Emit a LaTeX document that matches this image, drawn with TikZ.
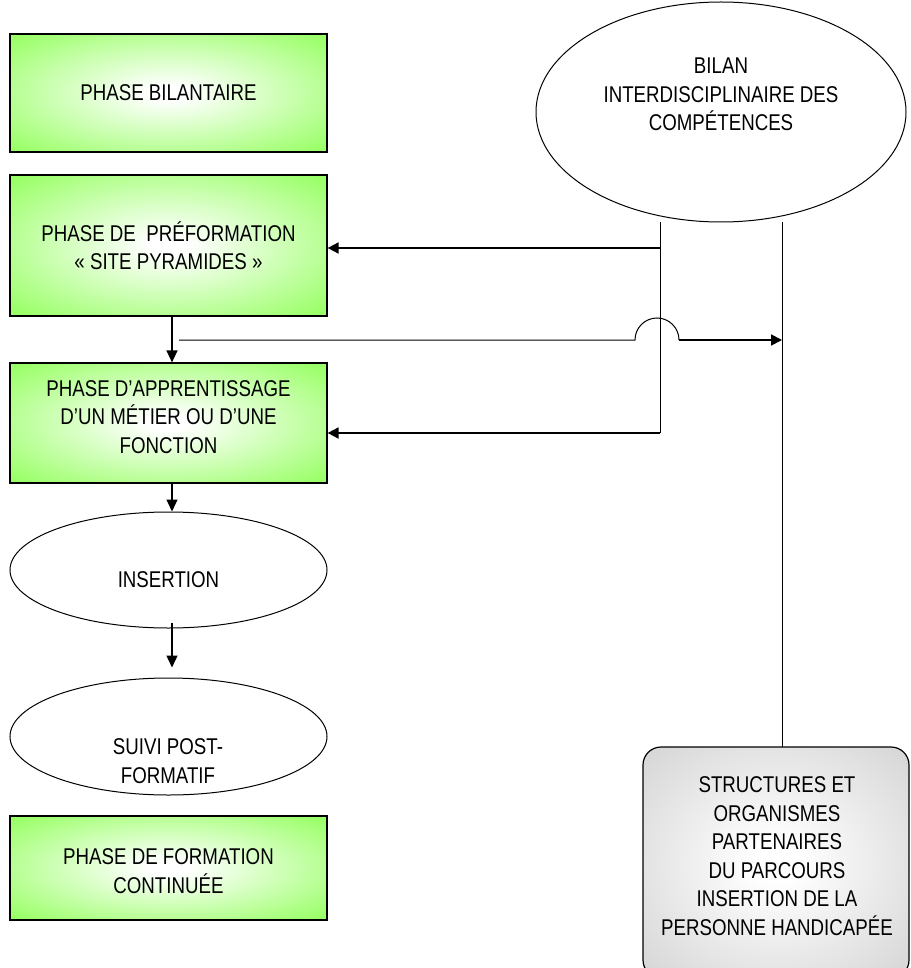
\documentclass[tikz,border=0pt]{standalone}
\usepackage{fontspec}
\setmainfont[FakeStretch=0.82]{Liberation Sans}
\usetikzlibrary{arrows.meta,shapes.geometric}
\definecolor{gboxc}{RGB}{153,255,102}
\definecolor{graycol}{RGB}{200,200,200}
\pgfdeclareradialshading{greenc}{\pgfpoint{0bp}{0bp}}{color(0bp)=(white); color(3bp)=(white); color(34bp)=(gboxc); color(50bp)=(gboxc)}
\pgfdeclareradialshading{grayc}{\pgfpoint{0bp}{0bp}}{color(0bp)=(white); color(4bp)=(white); color(45bp)=(graycol); color(50bp)=(graycol)}
\tikzset{
  txt/.style={font=\fontsize{22.8pt}{28.5pt}\selectfont, align=center, inner sep=0pt},
  gbox/.style={txt, draw=black, line width=1.2pt, shading=greenc, minimum width=317pt},
  oval/.style={draw=black, line width=1pt, ellipse, inner sep=0pt},
  thin/.style={line width=1pt},
  arr/.style={line width=1.3pt, -{Triangle[length=12pt,width=11pt]}},
  arrthick/.style={line width=1.8pt, -{Triangle[length=11pt,width=11pt]}}
}
\begin{document}
\begin{tikzpicture}[x=1pt,y=-1pt]
\useasboundingbox (0,0) rectangle (910,968);
\clip (0,0) rectangle (910,968);
% green boxes
\node[gbox, minimum height=118pt] (b1) at (168.5,93) {PHASE BILANTAIRE};
\node[gbox, minimum height=141pt] (b2) at (168.5,245.5) {PHASE DE\ \ PRÉFORMATION\\« SITE PYRAMIDES »};
\node[gbox, minimum height=120pt] (b3) at (168.5,423) {};
\node[txt] (b3t) at (168.5,417) {PHASE D’APPRENTISSAGE\\D’UN MÉTIER OU D’UNE\\FONCTION};
\node[gbox, minimum height=104pt] (b4) at (168.5,868) {};
\node[txt] (b4t) at (168.5,871) {PHASE DE FORMATION\\CONTINUÉE};
% ellipses
\node[oval, minimum width=317pt, minimum height=116pt] (ins) at (168.5,570) {};
\node[txt] (inst) at (168.5,580) {INSERTION};
\node[oval, minimum width=317pt, minimum height=117pt] (suivi) at (168.5,736.5) {};
\node[txt] (suivit) at (168,761) {SUIVI POST-\\FORMATIF};
\node[oval, minimum width=370pt, minimum height=220pt] (bilan) at (721,112) {};
\node[txt] (bilant) at (721,94.5) {BILAN\\INTERDISCIPLINAIRE DES\\COMPÉTENCES};
% gray box
\draw[line width=1.2pt, rounded corners=18pt, shading=grayc] (643,747) rectangle (909,978);
\node[txt] (grayt) at (777,856) {STRUCTURES ET\\ORGANISMES\\PARTENAIRES\\DU PARCOURS\\INSERTION DE LA\\PERSONNE HANDICAPÉE};
\coordinate (gtop) at (782,747);
% coordinates
\coordinate (v1top) at ([xshift=-61pt]bilan.south);
\coordinate (v2top) at ([xshift=61pt]bilan.south);
\coordinate (j1) at (660,248);
\coordinate (j2) at (660,433);
\coordinate (h0) at (179,340);
\coordinate (ha) at (635,340);
\coordinate (hb) at (679,340);
% connectors
\draw[thin] (v1top) -- (j2);
\draw[thin] (v2top) -- (gtop);
\draw[arrthick] (j1) -- (j1 -| b2.east);
\draw[arrthick] (j2) -- (j2 -| b3.east);
\draw[thin] (h0) -- (ha) arc[start angle=180, end angle=0, radius=22pt];
\draw[arrthick] (hb) -- (hb -| v2top);
\draw[arr] ([xshift=3.5pt]b2.south) -- ([xshift=3.5pt]b3.north);
\draw[arr] ([xshift=3.5pt]b3.south) -- ([xshift=3.5pt]ins.north);
\draw[arr] ([xshift=3.5pt,yshift=6pt]ins.south) -- ([xshift=3.5pt,yshift=10pt]suivi.north);
\end{tikzpicture}
\end{document}
